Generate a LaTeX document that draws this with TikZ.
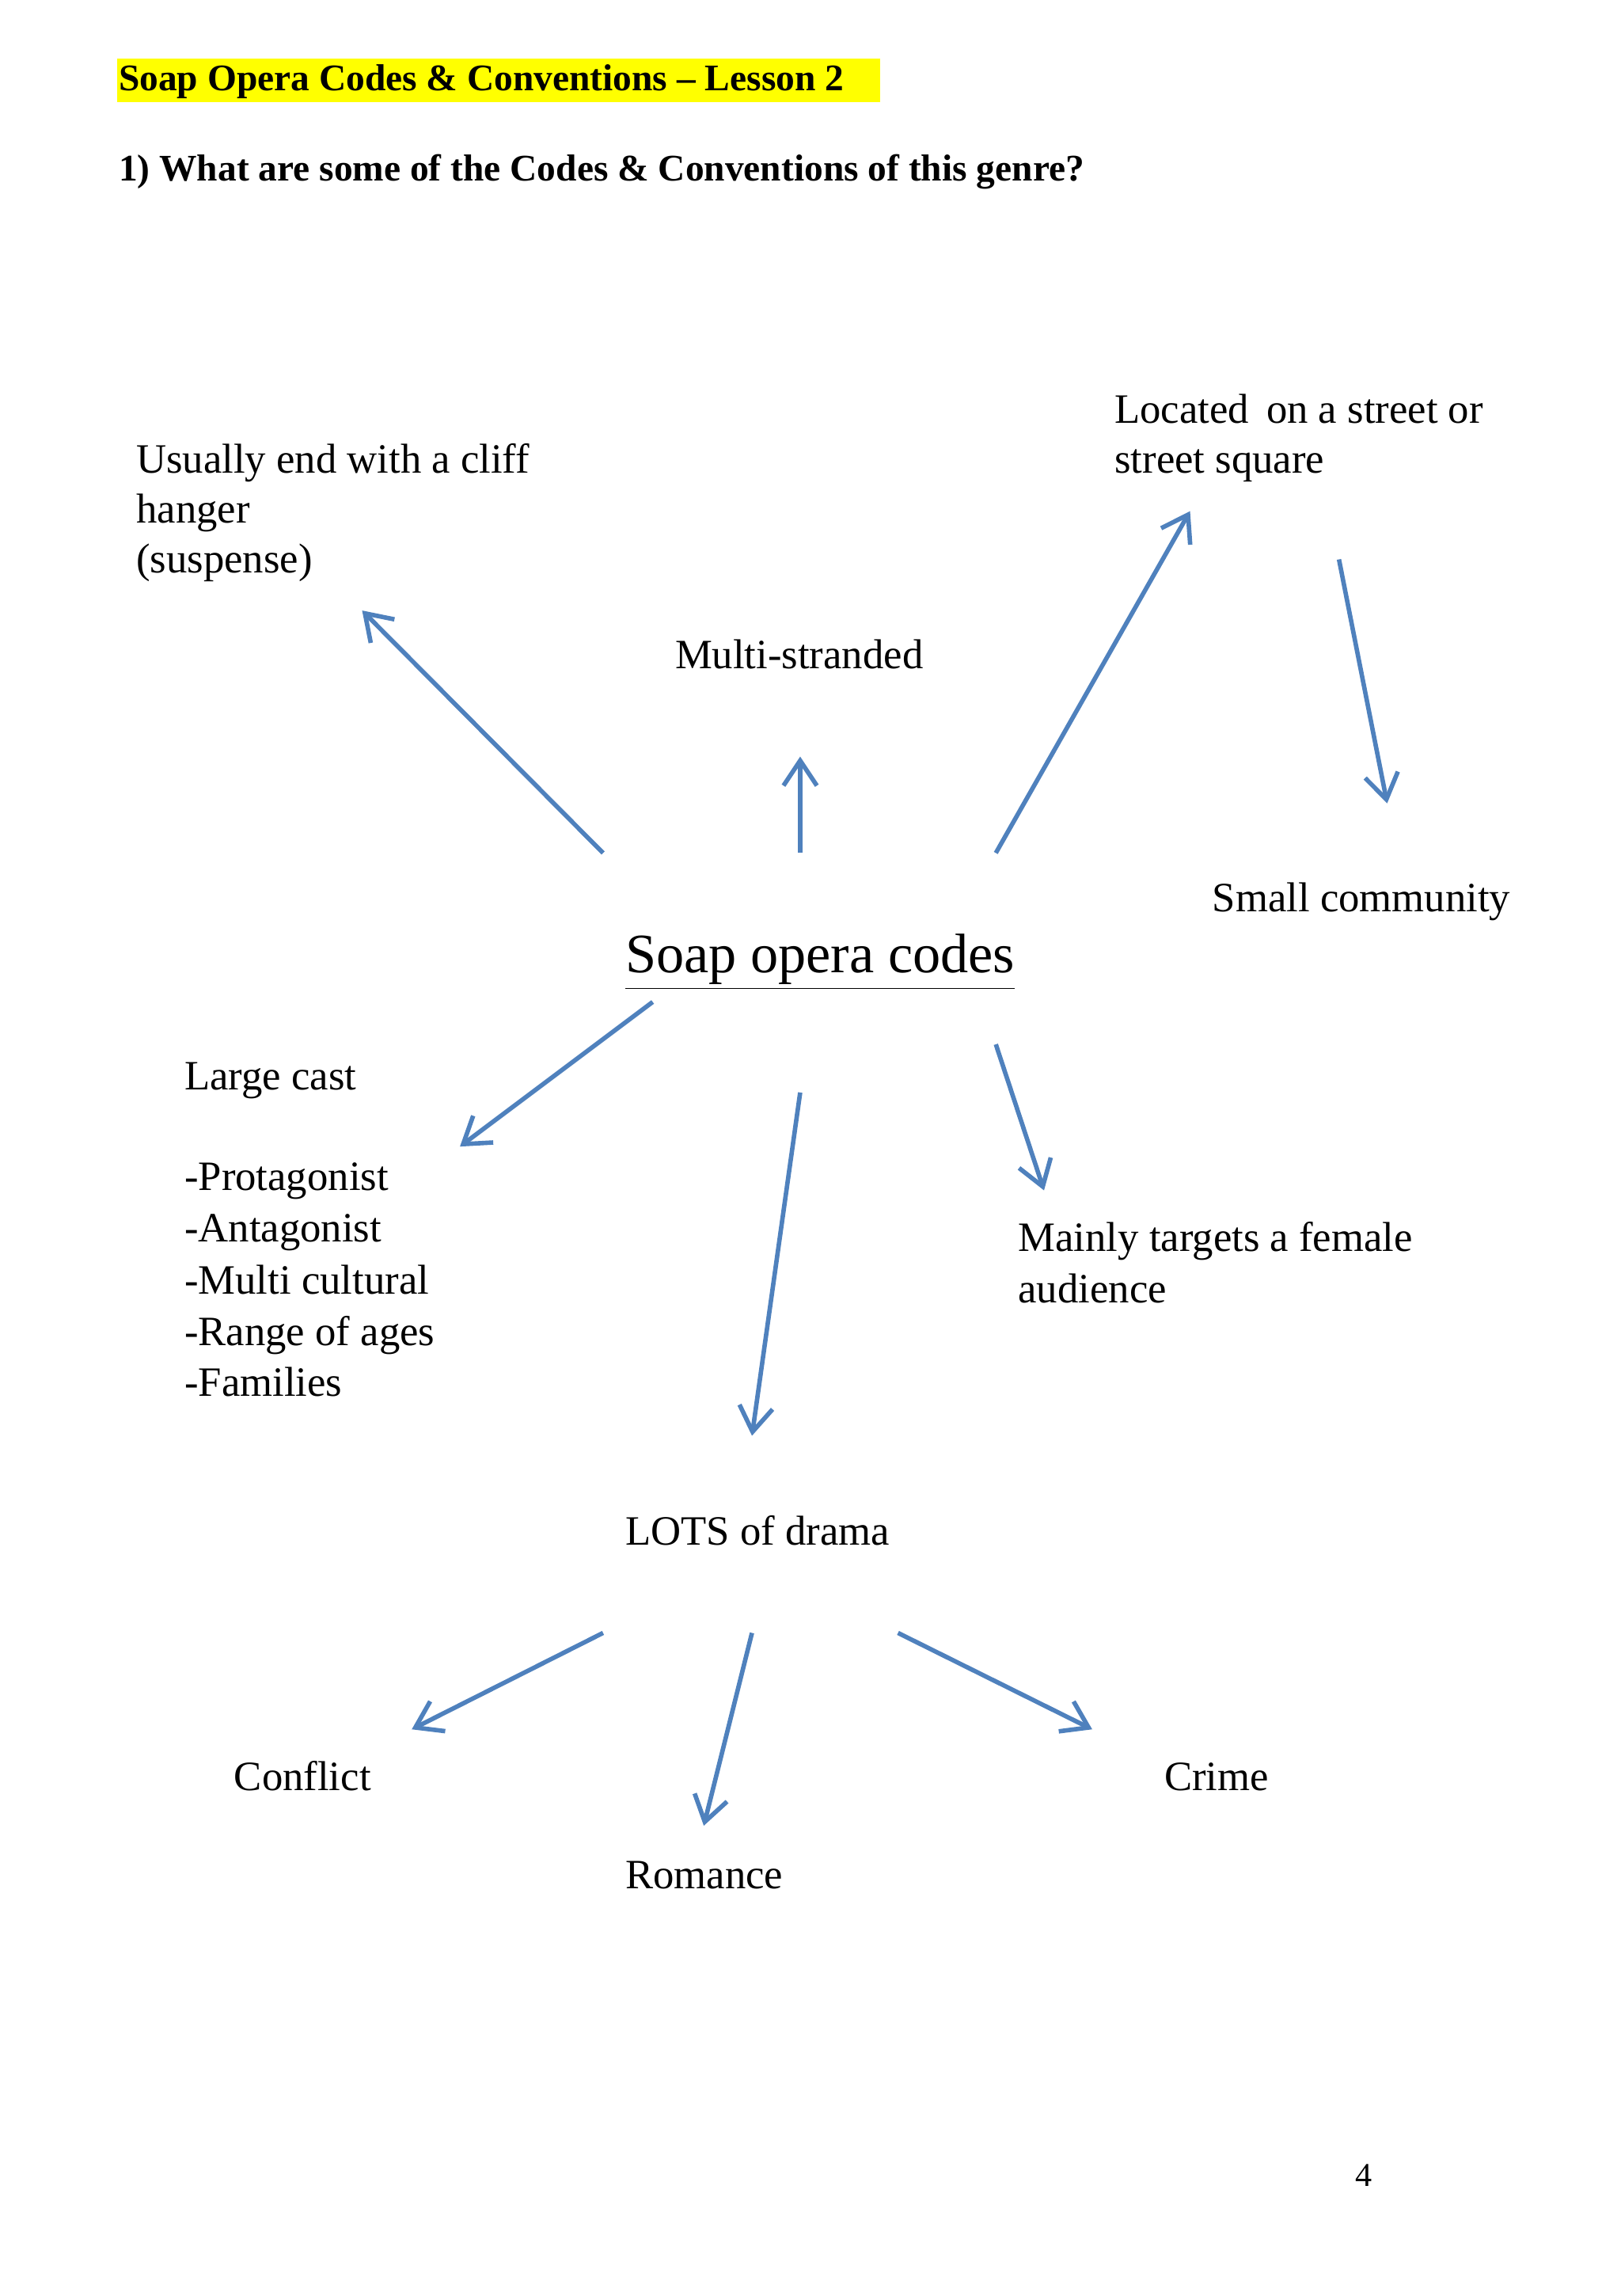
\documentclass[tikz,border=0pt]{standalone}
\usepackage{fontspec}
\setmainfont{Liberation Serif}
\usetikzlibrary{arrows.meta}
\definecolor{arr}{RGB}{79,129,189}
\definecolor{hl}{RGB}{255,255,0}
\tikzset{
  txt/.style={anchor=base west,inner sep=0pt,font=\fontsize{15}{18}\selectfont},
  hd/.style={anchor=base west,inner sep=0pt,font=\fontsize{13.5}{16}\selectfont\bfseries},
  con/.style={draw=arr,line width=1.6pt,-{Straight Barb[length=9pt,width=12pt,line width=1.6pt]}}
}
\begin{document}
\begin{tikzpicture}[x=0.01845cm,y=-0.01845cm]
\useasboundingbox (0,0) rectangle (1110,1572);
\fill[white] (0,0) rectangle (1110,1572);
\fill[hl] (80,40) rectangle (603,70);
\node[hd] (t1) at (81,62) {Soap Opera Codes \& Conventions – Lesson 2};
\node[hd] (t2) at (81,124) {1) What are some of the Codes \& Conventions of this genre?};
\node[txt] (c1) at (93,324) {Usually end with a cliff};
\node[txt] (c2) at (93,358) {hanger};
\node[txt] (c3) at (93,392) {(suspense)};
\node[txt] (l1) at (763,290) {Located\, on a street or};
\node[txt] (l2) at (763,324) {street square};
\node[txt] (ms) at (462,458) {Multi-stranded};
\node[txt] (sc) at (830,624) {Small community};
\node[anchor=base west,inner sep=0pt,font=\fontsize{20}{24}\selectfont] (soap) at (428,666) {\underline{Soap opera codes}};
\node[txt] (lc) at (126,746) {Large cast};
\node[txt] (p1) at (126,815) {-Protagonist};
\node[txt] (p2) at (126,850) {-Antagonist};
\node[txt] (p3) at (126,886) {-Multi cultural};
\node[txt] (p4) at (126,921) {-Range of ages};
\node[txt] (p5) at (126,956) {-Families};
\node[txt] (m1) at (697,857) {Mainly targets a female};
\node[txt] (m2) at (697,892) {audience};
\node[txt] (lots) at (428,1058) {LOTS of drama};
\node[txt] (cf) at (160,1226) {Conflict};
\node[txt] (cr) at (797,1226) {Crime};
\node[txt] (ro) at (428,1293) {Romance};
\node[anchor=base west,inner sep=0pt,font=\fontsize{12}{14}\selectfont] (pg) at (928,1497) {4};
\foreach \n/\a/\b/\c/\d in {a1/413/584/248/418, a2/548/584/548/518, a3/682/584/815/350, a4/917/383/950/550, a5/447/686/315/785, a6/548/748/515/983, a7/682/715/715/815, a8/413/1118/282/1184, a9/515/1118/482/1250, a10/615/1118/748/1184}{
  \coordinate (\n s) at (\a,\b);
  \coordinate (\n e) at (\c,\d);
  \draw[con] (\n s) -- (\n e);
}
\end{tikzpicture}
\end{document}
